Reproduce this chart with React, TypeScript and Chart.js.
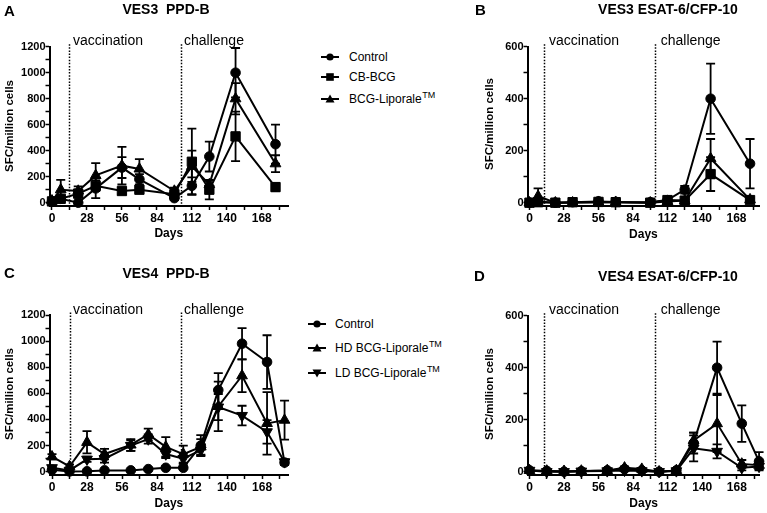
import React, { useEffect, useRef } from 'react';
import { Chart, registerables } from 'chart.js';

Chart.register(...registerables);

const FONT = '"Liberation Sans", Arial, Helvetica, sans-serif';

// ---------------- Data: VES3 (panels A and B) ----------------
const ves3Days = [0, 7, 21, 35, 56, 70, 98, 112, 126, 147, 179];

// A: VES3 PPD-B
const ves3PpdControl = [10, 30, 0, 110, 270, 180, 35, 130, 355, 1000, 450];
const ves3PpdControlErr = [10, 20, 5, 75, 80, 40, 15, 65, 115, 190, 150];
const ves3PpdCbBcg = [10, 30, 70, 130, 90, 100, 65, 315, 100, 510, 120];
const ves3PpdCbBcgErr = [10, 20, 30, 40, 25, 20, 20, 255, 75, 190, 30];
const ves3PpdLiporale = [15, 100, 90, 210, 285, 260, 90, 280, 140, 800, 300];
const ves3PpdLiporaleErr = [10, 75, 35, 95, 145, 75, 25, 120, 30, 120, 65];

// B: VES3 ESAT-6/CFP-10
const ves3EsatControl = [0, 5, 0, 2, 5, 3, 2, 10, 50, 400, 150];
const ves3EsatControlErr = [0, 5, 0, 2, 3, 2, 2, 8, 15, 135, 95];
const ves3EsatCbBcg = [0, 2, 0, 2, 3, 2, 0, 10, 8, 110, 10];
const ves3EsatCbBcgErr = [0, 2, 0, 2, 2, 2, 0, 5, 5, 65, 5];
const ves3EsatLiporale = [0, 25, 0, 0, 2, 2, 0, 5, 8, 170, 12];
const ves3EsatLiporaleErr = [0, 30, 0, 0, 2, 2, 0, 5, 5, 75, 8];

// ---------------- Data: VES4 (panels C and D) ----------------
const ves4Days = [0, 14, 28, 42, 63, 77, 91, 105, 119, 133, 152, 172, 186];

// C: VES4 PPD-B
const ves4PpdControl = [15, 2, 3, 10, 10, 20, 30, 30, 200, 625, 980, 840, 70];
const ves4PpdControlErr = [10, 5, 5, 5, 5, 10, 10, 10, 80, 130, 120, 205, 20];
const ves4PpdHd = [115, 40, 225, 135, 205, 285, 190, 135, 190, 500, 735, 370, 395];
const ves4PpdHdErr = [20, 15, 85, 40, 45, 45, 75, 65, 60, 190, 125, 240, 150];
const ves4PpdLd = [30, 10, 95, 100, 200, 250, 135, 100, 165, 495, 430, 305, 75];
const ves4PpdLdErr = [15, 5, 20, 30, 40, 35, 30, 40, 40, 100, 75, 90, 20];

// D: VES4 ESAT-6/CFP-10
const ves4EsatControl = [5, 3, 0, 2, 5, 10, 5, 0, 5, 110, 400, 185, 40];
const ves4EsatControlErr = [3, 2, 0, 2, 3, 5, 5, 0, 3, 40, 100, 70, 35];
const ves4EsatHd = [5, 3, 2, 3, 5, 15, 10, 0, 5, 120, 185, 30, 25];
const ves4EsatHdErr = [3, 2, 2, 2, 3, 5, 5, 0, 3, 30, 110, 15, 15];
const ves4EsatLd = [5, 0, 0, 2, 3, 5, 3, 0, 3, 90, 78, 15, 20];
const ves4EsatLdErr = [3, 0, 0, 2, 2, 3, 2, 0, 2, 50, 27, 10, 10];

// ---------------- Labels ----------------
const ves3Labels = ['Control', 'CB-BCG', 'BCG-Liporale'];
const ves3Tm = [false, false, true];
const ves3Markers = ['circle', 'rect', 'triangle'];
const ves4Labels = ['Control', 'HD BCG-Liporale', 'LD BCG-Liporale'];
const ves4Tm = [false, true, true];
const ves4Markers = ['circle', 'triangle', 'triangleDown'];

const yAxisTitle = 'SFC/million cells';
const xAxisTitle = 'Days';
const vaccinationLabel = 'vaccination';
const challengeLabel = 'challenge';

type Marker = string;

const markerProps = (m: Marker) => {
  if (m === 'circle') return { pointStyle: 'circle', pointRadius: 4.8, pointRotation: 0 };
  if (m === 'rect') return { pointStyle: 'rect', pointRadius: 6.6, pointRotation: 0 };
  if (m === 'triangleDown') return { pointStyle: 'triangle', pointRadius: 6.2, pointRotation: 180 };
  return { pointStyle: 'triangle', pointRadius: 6.2, pointRotation: 0 };
};

const panels = [
  {
    key: 'A', letter: 'A', title: 'VES3  PPD-B',
    left: 0, top: 0, w: 300, h: 250,
    axisL: 49.5, axisR: 288, plotT: 46.7, axisB: 206,
    xMin: -2, xMax: 189, yMin: -25.4, yMax: 1200, yMinor: 100, yMajor: 200,
    days: ves3Days,
    values: [ves3PpdControl, ves3PpdCbBcg, ves3PpdLiporale],
    errors: [ves3PpdControlErr, ves3PpdCbBcgErr, ves3PpdLiporaleErr],
    markers: ves3Markers,
    letterX: 4, letterY: 11.5, titleX: 166, titleY: 10.5,
    labelY: 40.7, vaccX: 73, chalX: 184, vaccDay: 14, chalDay: 103.5,
    yTitleX: 10, yTitleY: 126, daysY: 233.5,
  },
  {
    key: 'B', letter: 'B', title: 'VES3 ESAT-6/CFP-10',
    left: 470, top: 0, w: 297, h: 250,
    axisL: 57.5, axisR: 292.7, plotT: 46.7, axisB: 206,
    xMin: -1.6, xMax: 186.6, yMin: -12.7, yMax: 600, yMinor: 100, yMajor: 200,
    days: ves3Days,
    values: [ves3EsatControl, ves3EsatCbBcg, ves3EsatLiporale],
    errors: [ves3EsatControlErr, ves3EsatCbBcgErr, ves3EsatLiporaleErr],
    markers: ves3Markers,
    letterX: 5, letterY: 11, titleX: 198, titleY: 10.5,
    labelY: 40.7, vaccX: 79, chalX: 190.7, vaccDay: 12, chalDay: 102,
    yTitleX: 20, yTitleY: 124, daysY: 234.5,
  },
  {
    key: 'C', letter: 'C', title: 'VES4  PPD-B',
    left: 0, top: 250, w: 300, h: 263,
    axisL: 49.5, axisR: 288.3, plotT: 65, axisB: 225,
    xMin: -2, xMax: 189, yMin: -25.3, yMax: 1200, yMinor: 100, yMajor: 200,
    days: ves4Days,
    values: [ves4PpdControl, ves4PpdHd, ves4PpdLd],
    errors: [ves4PpdControlErr, ves4PpdHdErr, ves4PpdLdErr],
    markers: ves4Markers,
    letterX: 4, letterY: 24, titleX: 166, titleY: 23.8,
    labelY: 60, vaccX: 73, chalX: 184, vaccDay: 14, chalDay: 103.5,
    yTitleX: 10, yTitleY: 144, daysY: 253.5,
  },
  {
    key: 'D', letter: 'D', title: 'VES4 ESAT-6/CFP-10',
    left: 470, top: 250, w: 297, h: 263,
    axisL: 57.5, axisR: 292.7, plotT: 65.7, axisB: 225,
    xMin: -1.6, xMax: 186.6, yMin: -12.7, yMax: 600, yMinor: 100, yMajor: 200,
    days: ves4Days,
    values: [ves4EsatControl, ves4EsatHd, ves4EsatLd],
    errors: [ves4EsatControlErr, ves4EsatHdErr, ves4EsatLdErr],
    markers: ves4Markers,
    letterX: 4, letterY: 26.7, titleX: 198, titleY: 27,
    labelY: 60, vaccX: 79, chalX: 190.7, vaccDay: 12, chalDay: 102,
    yTitleX: 20, yTitleY: 144, daysY: 253.8,
  },
];

const errorBarPlugin = {
  id: 'errorBars',
  afterDatasetsDraw(chart: any) {
    const { ctx, scales } = chart;
    const xs = scales.x;
    const ys = scales.y;
    ctx.save();
    ctx.strokeStyle = '#000';
    ctx.lineWidth = 1.8;
    chart.data.datasets.forEach((ds: any) => {
      const errs: number[] = ds.errorBars || [];
      ds.data.forEach((pt: any, i: number) => {
        const e = errs[i];
        if (!e) return;
        const x = xs.getPixelForValue(pt.x);
        const yTop = ys.getPixelForValue(pt.y + e);
        const low = Math.max(pt.y - e, 0);
        const yBot = ys.getPixelForValue(low);
        ctx.beginPath();
        ctx.moveTo(x, yTop);
        ctx.lineTo(x, yBot);
        ctx.moveTo(x - 4.5, yTop);
        ctx.lineTo(x + 4.5, yTop);
        if (pt.y - e > 0) {
          ctx.moveTo(x - 4.5, yBot);
          ctx.lineTo(x + 4.5, yBot);
        }
        ctx.stroke();
      });
    });
    ctx.restore();
  },
};

const makeDecor = (p: any) => ({
  id: 'decor' + p.key,
  afterDraw(chart: any) {
    const { ctx, scales, chartArea } = chart;
    const xs = scales.x;
    ctx.save();
    ctx.fillStyle = '#000';
    ctx.strokeStyle = '#000';
    ctx.lineWidth = 1.5;
    ctx.setLineDash([1.5, 1.6]);
    [p.vaccDay, p.chalDay].forEach((d: number) => {
      const x = Math.round(xs.getPixelForValue(d)) + 0.5;
      ctx.beginPath();
      ctx.moveTo(x, chartArea.top - 2.5);
      ctx.lineTo(x, chartArea.bottom);
      ctx.stroke();
    });
    ctx.setLineDash([]);
    ctx.textBaseline = 'middle';
    ctx.font = `bold 15px ${FONT}`;
    ctx.textAlign = 'left';
    ctx.fillText(p.letter, p.letterX, p.letterY);
    ctx.font = `bold 14px ${FONT}`;
    ctx.textAlign = 'center';
    ctx.fillText(p.title, p.titleX, p.titleY);
    ctx.font = `14px ${FONT}`;
    ctx.textAlign = 'left';
    ctx.fillText(vaccinationLabel, p.vaccX, p.labelY);
    ctx.fillText(challengeLabel, p.chalX, p.labelY);
    ctx.font = `bold 12px ${FONT}`;
    ctx.textAlign = 'center';
    ctx.fillText(xAxisTitle, (chartArea.left + chartArea.right) / 2, p.daysY);
    ctx.translate(p.yTitleX, p.yTitleY);
    ctx.rotate(-Math.PI / 2);
    ctx.font = `bold 11.5px ${FONT}`;
    ctx.fillText(yAxisTitle, 0, 0);
    ctx.restore();
  },
});

function Panel({ p }: { p: any }) {
  const ref = useRef<HTMLCanvasElement>(null);
  useEffect(() => {
    const canvas = ref.current;
    if (!canvas) return;
    const xTicks: number[] = [];
    for (let v = 0; v <= p.xMax; v += 14) xTicks.push(v);
    const yTicks: number[] = [];
    for (let v = 0; v <= p.yMax; v += p.yMinor) yTicks.push(v);

    const datasets = p.values.map((vals: number[], si: number) => ({
      label: String(si),
      data: p.days.map((d: number, i: number) => ({ x: d, y: vals[i] })),
      errorBars: p.errors[si],
      borderColor: '#000',
      borderWidth: 2,
      backgroundColor: '#000',
      pointBackgroundColor: '#000',
      pointBorderColor: '#000',
      pointBorderWidth: 1,
      tension: 0,
      fill: false,
      clip: false,
      ...markerProps(p.markers[si]),
    }));

    const chart = new Chart(canvas, {
      type: 'line',
      data: { datasets },
      options: {
        responsive: false,
        animation: false,
        events: [],
        layout: { padding: { left: 0, top: p.plotT, right: p.w - p.axisR, bottom: 0 } },
        plugins: {
          legend: { display: false },
          tooltip: { enabled: false },
          title: { display: false },
        },
        scales: {
          x: {
            type: 'linear',
            min: p.xMin,
            max: p.xMax,
            afterBuildTicks: (s: any) => {
              s.ticks = xTicks.map((v) => ({ value: v }));
            },
            afterFit: (s: any) => {
              s.height = p.h - p.axisB;
            },
            ticks: {
              autoSkip: false,
              maxRotation: 0,
              minRotation: 0,
              color: '#000',
              padding: 1.5,
              font: { family: FONT, size: 12, weight: 'bold' },
              callback: (v: any) => (Number(v) % 28 === 0 ? String(v) : ''),
            },
            grid: {
              drawOnChartArea: false,
              drawTicks: true,
              tickLength: 4,
              tickWidth: 1.5,
              tickColor: '#000',
            },
            border: { display: true, color: '#000', width: 2 },
          },
          y: {
            type: 'linear',
            min: p.yMin,
            max: p.yMax,
            afterBuildTicks: (s: any) => {
              s.ticks = yTicks.map((v) => ({ value: v }));
            },
            afterFit: (s: any) => {
              s.width = p.axisL;
            },
            ticks: {
              autoSkip: false,
              color: '#000',
              padding: 0,
              font: { family: FONT, size: 11, weight: 'bold' },
              callback: (v: any) => (Number(v) % p.yMajor === 0 ? String(v) : ''),
            },
            grid: {
              drawOnChartArea: false,
              drawTicks: true,
              tickLength: 4,
              tickWidth: 1.5,
              tickColor: '#000',
            },
            border: { display: true, color: '#000', width: 2 },
          },
        },
      } as any,
      plugins: [errorBarPlugin, makeDecor(p)],
    });
    return () => chart.destroy();
  }, [p]);
  return (
    <canvas
      ref={ref}
      width={p.w}
      height={p.h}
      style={{ position: 'absolute', left: p.left, top: p.top, width: p.w, height: p.h }}
    />
  );
}

function LegendMarker({ m }: { m: string }) {
  return (
    <svg width={18} height={12} style={{ display: 'block' }}>
      <line x1={0} y1={6} x2={18} y2={6} stroke="#000" strokeWidth={2} />
      {m === 'circle' && <circle cx={9} cy={6} r={3.6} fill="#000" />}
      {m === 'rect' && <rect x={5.2} y={2.2} width={7.6} height={7.6} fill="#000" />}
      {m === 'triangle' && <polygon points="9,1.5 13.5,9.5 4.5,9.5" fill="#000" />}
      {m === 'triangleDown' && <polygon points="4.5,2.5 13.5,2.5 9,10.5" fill="#000" />}
    </svg>
  );
}

function Legend({ labels, tm, markers, markerLeft, textLeft, rows }: any) {
  return (
    <>
      {labels.map((lab: string, i: number) => (
        <React.Fragment key={lab}>
          <div style={{ position: 'absolute', left: markerLeft, top: rows[i] - 6 }}>
            <LegendMarker m={markers[i]} />
          </div>
          <div
            style={{
              position: 'absolute',
              left: textLeft,
              top: rows[i] - 7,
              height: 14,
              lineHeight: '14px',
              fontSize: 12,
              fontFamily: FONT,
              color: '#000',
              whiteSpace: 'nowrap',
            }}
          >
            {lab}
            {tm[i] && (
              <span style={{ fontSize: 9, position: 'relative', top: -5, marginLeft: 0.5 }}>TM</span>
            )}
          </div>
        </React.Fragment>
      ))}
    </>
  );
}

export default function App() {
  return (
    <div
      style={{
        position: 'absolute',
        left: 0,
        top: 0,
        width: 767,
        height: 513,
        background: '#fff',
        overflow: 'hidden',
      }}
    >
      {panels.map((p) => (
        <Panel key={p.key} p={p} />
      ))}
      <Legend
        labels={ves3Labels}
        tm={ves3Tm}
        markers={ves3Markers}
        markerLeft={321}
        textLeft={349}
        rows={[56.7, 77.3, 98.5]}
      />
      <Legend
        labels={ves4Labels}
        tm={ves4Tm}
        markers={ves4Markers}
        markerLeft={307.5}
        textLeft={335}
        rows={[323.5, 347.8, 372.5]}
      />
    </div>
  );
}
